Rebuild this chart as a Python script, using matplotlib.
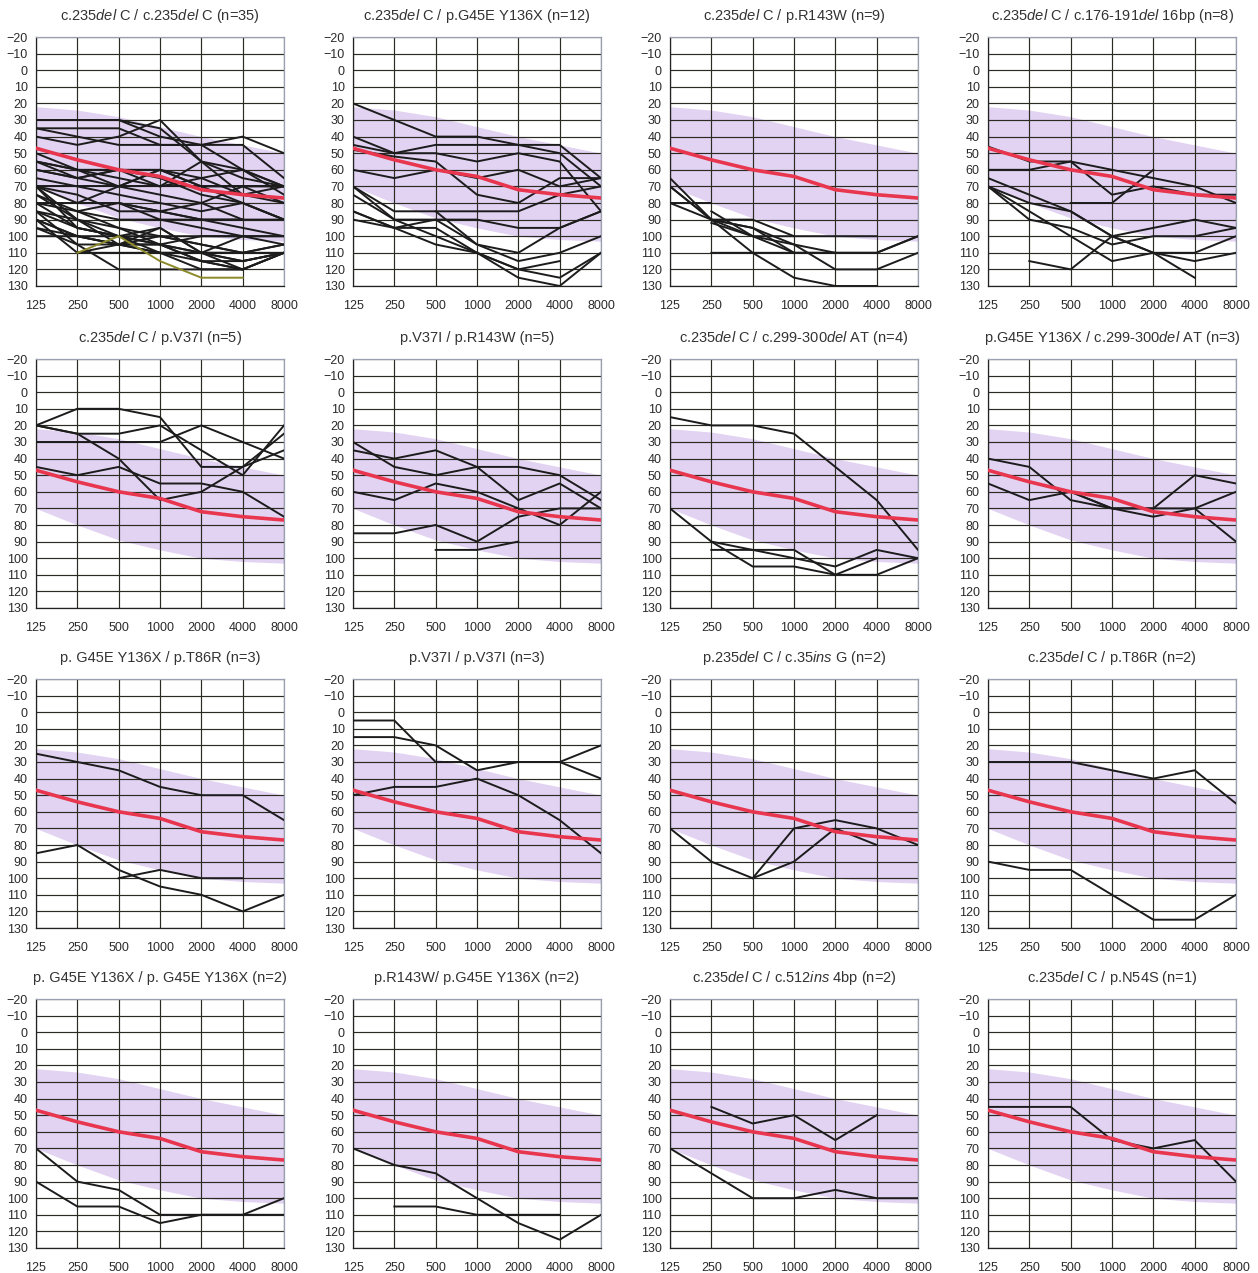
import numpy as np
import matplotlib
matplotlib.use('Agg')
from matplotlib import pyplot as plt

plt.rcParams['font.family'] = ['Liberation Sans', 'DejaVu Sans']
plt.rcParams['mathtext.fontset'] = 'custom'
plt.rcParams['mathtext.rm'] = 'Liberation Sans'
plt.rcParams['mathtext.it'] = 'Liberation Sans:italic'

nan = np.nan

# frequencias (Hz) e escala de limiar (dB)
freqs = ['125', '250', '500', '1000', '2000', '4000', '8000']
db_ticks = list(range(-20, 131, 10))

# curva media (vermelha) e faixa de referencia (lilas)
media = [47, 54, 60, 64, 72, 75, 77]
faixa_sup = [22, 24, 28, 34, 40, 45, 50]
faixa_inf = [70, 80, 89, 95, 100, 102, 103]

titulos = [
    'c.235$\\it{del}$ C / c.235$\\it{del}$ C (n=35)',
    'c.235$\\it{del}$ C / p.G45E Y136X (n=12)',
    'c.235$\\it{del}$ C / p.R143W (n=9)',
    'c.235$\\it{del}$ C / c.176-191$\\it{del}$ 16bp (n=8)',
    'c.235$\\it{del}$ C / p.V37I (n=5)',
    'p.V37I / p.R143W (n=5)',
    'c.235$\\it{del}$ C / c.299-300$\\it{del}$ AT (n=4)',
    'p.G45E Y136X / c.299-300$\\it{del}$ AT (n=3)',
    'p. G45E Y136X / p.T86R (n=3)',
    'p.V37I / p.V37I (n=3)',
    'p.235$\\it{del}$ C / c.35$\\it{ins}$ G (n=2)',
    'c.235$\\it{del}$ C / p.T86R (n=2)',
    'p. G45E Y136X / p. G45E Y136X (n=2)',
    'p.R143W/ p.G45E Y136X (n=2)',
    'c.235$\\it{del}$ C / c.512$\\it{ins}$ 4bp (n=2)',
    'c.235$\\it{del}$ C / p.N54S (n=1)',
]

# audiogramas individuais de cada grupo
g01 = [
    [30, 30, 30, 40, 45, 40, 50],
    [30, 30, 30, 35, 55, 60, 70],
    [35, 35, 35, 45, 45, 45, 65],
    [35, 40, 45, 45, 45, 60, 75],
    [40, 45, 40, 30, 55, 65, 70],
    [55, 60, 60, 60, 65, 60, 70],
    [55, 65, 60, 70, 55, 75, 80],
    [55, 60, 70, 60, 70, 70, 80],
    [60, 65, 70, 60, 70, 80, 90],
    [70, 70, 70, 70, 70, 70, 70],
    [70, 75, 85, 85, 80, 70, 70],
    [70, 80, 70, 75, 80, 90, 90],
    [75, 85, 80, 85, 90, 90, nan],
    [80, 80, 80, 85, 90, 90, nan],
    [80, 85, 90, 90, 90, 95, 100],
    [nan, nan, 80, 90, 95, 100, 105],
    [85, 90, 95, 100, 100, 100, 100],
    [85, 95, 100, 100, 105, 110, 105],
    [90, 100, 105, 110, 120, 120, 110],
    [90, 110, 110, 110, 110, 110, 110],
    [95, 105, 120, 120, 120, 120, 110],
    [70, 90, 100, 105, 115, 120, 110],
    [70, 95, 100, 110, 110, 115, 110],
    [75, 90, 105, 105, 115, 115, 110],
    [80, 95, 100, 105, 110, 110, nan],
    [90, 100, 105, 100, 105, 110, 105],
    [95, 100, 100, 95, 110, 115, 110],
    [nan, 85, 95, 105, 100, 100, nan],
    [60, 65, 60, 65, 75, 80, 90],
    [50, 60, 65, 70, 65, 75, 70],
    [65, 70, 75, 80, 85, 80, 90],
    [nan, 110, 105, 105, 110, 120, nan],
    [85, 105, 105, 95, 110, 100, 100],
    [100, 100, 105, 110, 115, 120, nan],
]
g01_oliva = [nan, 110, 100, 115, 125, 125, nan]
g02 = [
    [20, 30, 40, 40, 45, 45, 65],
    [40, 50, 50, 55, 50, 55, 85],
    [45, 50, 45, 45, 45, 50, 70],
    [60, 65, 60, 65, 60, 70, 65],
    [48, 52, 55, 75, 80, 65, 65],
    [70, 85, 85, 85, 85, 75, 70],
    [75, 90, 90, 90, 95, 95, 85],
    [85, 95, 90, 105, 110, 95, 85],
    [90, 95, 95, 110, 120, 115, nan],
    [70, 90, 100, 110, 125, 130, 110],
    [85, 95, 105, 110, 120, 125, 110],
    [nan, nan, 85, 105, 115, 110, 100],
]
g03 = [
    [65, 90, 90, 100, 100, 100, nan],
    [70, 90, 95, 105, 110, 110, 100],
    [80, 80, nan, nan, nan, nan, nan],
    [80, 90, 100, 105, 120, 120, 110],
    [nan, 110, 110, 110, 110, 110, 100],
    [nan, 85, 100, 110, nan, nan, nan],
    [70, 90, 110, 125, 130, 130, nan],
    [nan, 92, 100, 100, nan, nan, nan],
    [nan, 90, 95, 110, 110, nan, nan],
]
g04 = [
    [46, 55, 55, 60, 65, 70, 80],
    [60, 60, 55, 75, 70, 75, 75],
    [nan, nan, 80, 80, 60, nan, nan],
    [65, 75, 85, 100, 95, 90, 95],
    [70, 80, 85, 100, 110, 125, nan],
    [70, 90, 95, 105, 100, 100, 95],
    [70, 85, 100, 115, 110, 115, 110],
    [nan, 115, 120, 100, 110, 110, 100],
]
g05 = [
    [20, 10, 10, 15, 45, 45, 35],
    [30, 30, 30, 30, 20, 30, 40],
    [20, 25, 25, 20, 35, 50, 20],
    [20, 25, 40, 65, 60, 45, 25],
    [45, 50, 45, 55, 55, 60, 75],
]
g06 = [
    [30, 45, 50, 45, 45, 50, 65],
    [35, 40, 35, 45, 65, 55, 70],
    [60, 65, 55, 60, 70, 80, 60],
    [85, 85, 80, 90, 75, 70, 70],
    [nan, nan, 95, 95, 90, nan, nan],
]
g07 = [
    [15, 20, 20, 25, 45, 65, 95],
    [70, 90, 105, 105, 110, 110, 100],
    [nan, 90, 95, 100, 105, 95, 100],
    [nan, 95, 95, 95, 110, 100, nan],
]
g08 = [
    [40, 45, 65, 70, 70, 50, 55],
    [55, 65, 60, 70, 75, 70, 60],
    [nan, nan, 60, 70, 70, 70, 90],
]
g09 = [
    [25, 30, 35, 45, 50, 50, 65],
    [85, 80, 95, 105, 110, 120, 110],
    [nan, nan, 100, 95, 100, 100, nan],
]
g10 = [
    [5, 5, 30, 30, 30, 30, 40],
    [15, 15, 20, 35, 30, 30, 20],
    [50, 45, 45, 40, 50, 65, 85],
]
g11 = [
    [70, 90, 100, 70, 65, 70, 80],
    [nan, nan, 100, 90, 70, 80, nan],
]
g12 = [
    [30, 30, 30, 35, 40, 35, 55],
    [90, 95, 95, 110, 125, 125, 110],
]
g13 = [
    [70, 90, 95, 110, 110, 110, 110],
    [90, 105, 105, 115, 110, 110, 100],
]
g14 = [
    [70, 80, 85, 100, 115, 125, 110],
    [nan, 105, 105, 110, 110, 110, nan],
]
g15 = [
    [nan, 45, 55, 50, 65, 50, nan],
    [70, 85, 100, 100, 95, 100, 100],
]
g16 = [
    [45, 45, 45, 65, 70, 65, 90],
]
grupos = [g01, g02, g03, g04, g05, g06, g07, g08,
          g09, g10, g11, g12, g13, g14, g15, g16]

# posicoes dos paineis em pixels (figura 1258 x 1273)
W, H = 1258, 1273
col_x = [36, 353, 670, 988]
lin_y = [37, 359, 679, 999]
larg, alt = 248, 249

fig = plt.figure(figsize=(W / 100, H / 100), dpi=100)
fig.patch.set_facecolor('white')

x = np.arange(len(freqs))
for k, (titulo, linhas) in enumerate(zip(titulos, grupos)):
    r, c = divmod(k, 4)
    ax = fig.add_axes([col_x[c] / W, 1 - (lin_y[r] + alt) / H, larg / W, alt / H])

    ax.fill_between(x, faixa_sup, faixa_inf, color='#e2d3f2', lw=0, zorder=0.5)
    for v in x:
        ax.axvline(v, color='#2b2b22', lw=0.85, zorder=1)
    for d in db_ticks:
        ax.axhline(d, color='#2b2b22', lw=0.85, zorder=1)

    for y in linhas:
        ax.plot(x, y, color='#1c1c1c', lw=1.4, zorder=3)
    if k == 0:
        ax.plot(x, g01_oliva, color='#8c8a2a', lw=1.4, zorder=3)
    ax.plot(x, media, color='#e8364e', lw=2.6, zorder=4)

    ax.set_xlim(0, 6)
    ax.set_ylim(130, -20)
    ax.set_xticks(x)
    ax.set_xticklabels(freqs)
    ax.set_yticks(db_ticks)
    ax.tick_params(length=0, labelsize=9, colors='#2a2a2a')
    ax.tick_params(axis='x', pad=10)
    ax.tick_params(axis='y', pad=6)
    for s in ax.spines.values():
        s.set_color('#9aa0b0')
        s.set_linewidth(0.9)
    ax.spines['left'].set_color('#222222')
    ax.spines['bottom'].set_color('#222222')
    ax.set_title(titulo, fontsize=10.5, color='#333333', pad=12)

plt.savefig('out.png', dpi=100)
